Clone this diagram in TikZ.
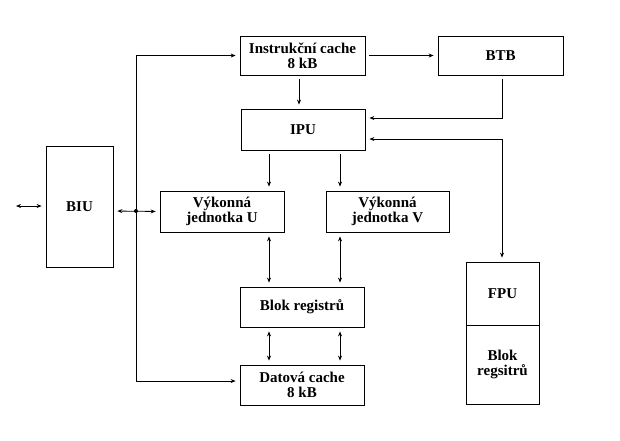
\documentclass[tikz,border=0pt]{standalone}
\usepackage{fontspec}
\setmainfont{Liberation Serif}
\usetikzlibrary{arrows.meta,calc}
\begin{document}
\begin{tikzpicture}[x=1pt,y=-1pt,
  box/.style={draw,line width=0.8pt,rectangle,inner sep=0pt,align=center,font=\fontsize{15}{15}\selectfont\bfseries},
  conn/.style={line width=0.8pt,shorten >=4pt,shorten <=4pt},
  tip/.style={-{Stealth[length=5pt,width=4pt]}},
  dtip/.style={{Stealth[length=5pt,width=4pt]}-{Stealth[length=5pt,width=4pt]}}]
\useasboundingbox (0,0) rectangle (620,440);
\fill[white] (0,0) rectangle (620,440);
% boxes
\node[box,minimum width=125,minimum height=39] (IC) at (302.5,55.5) {Instrukční cache\\8 kB};
\node[box,minimum width=125,minimum height=39] (BTB) at (500.5,55.5) {BTB};
\node[box,minimum width=124,minimum height=41] (IPU) at (303,129.5) {IPU};
\node[box,minimum width=124,minimum height=41] (U) at (222,211.5) {Výkonná\\jednotka U};
\node[box,minimum width=123,minimum height=41] (V) at (387.5,211.5) {Výkonná\\jednotka V};
\node[box,minimum width=124,minimum height=40] (Blok) at (302,307) {Blok registrů};
\node[box,minimum width=124,minimum height=40] (Dat) at (302,385) {Datová cache\\8 kB};
\node[box,minimum width=67,minimum height=121] (BIU) at (79.5,206.5) {BIU};
\node[box,minimum width=73,minimum height=63] (FPU) at (502.5,293.5) {FPU};
\node[box,minimum width=73,minimum height=79] (FBlok) at (502.5,364.5) {Blok\\regsitrů};
% helper coordinates
\coordinate (ext) at (12,206);
\coordinate (bt) at (136,55.5);
\coordinate (bb) at (136,381);
\coordinate (j) at (136,211);
\coordinate (xa) at (299,0);
\coordinate (xu) at (269,0);
\coordinate (xv) at (340,0);
\coordinate (r1) at (502,118);
\coordinate (r2) at (502,139);
% connectors
\draw[conn,dtip] (ext) -- (BIU.west |- ext);
\draw[conn,dtip] (BIU.east |- j) -- (U.west);
\draw[line width=0.8pt] (bt) -- (bb);
\fill (j) circle (2);
\draw[conn,tip,shorten <=0pt] (bt) -- (IC.west);
\draw[conn,tip,shorten <=0pt] (bb) -- (Dat.west |- bb);
\draw[conn,tip] (IC.east) -- (BTB.west);
\draw[conn,tip] (IC.south -| xa) -- (IPU.north -| xa);
\draw[conn,tip] (BTB.south -| r1) -- (r1) -- (IPU.east |- r1);
\draw[conn,dtip] (IPU.east |- r2) -- (r2) -- (FPU.north -| r2);
\draw[conn,tip] (IPU.south -| xu) -- (U.north -| xu);
\draw[conn,tip] (IPU.south -| xv) -- (V.north -| xv);
\draw[conn,dtip] (U.south -| xu) -- (Blok.north -| xu);
\draw[conn,dtip] (V.south -| xv) -- (Blok.north -| xv);
\draw[conn,dtip] (Blok.south -| xu) -- (Dat.north -| xu);
\draw[conn,dtip] (Blok.south -| xv) -- (Dat.north -| xv);
\end{tikzpicture}
\end{document}
